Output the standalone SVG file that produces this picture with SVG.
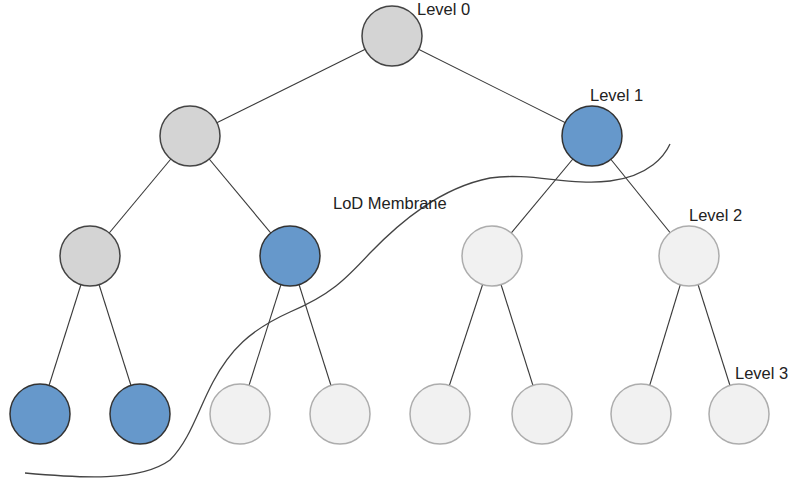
<svg xmlns="http://www.w3.org/2000/svg" width="790" height="483" viewBox="0 0 790 483">
<style>
.e{stroke:#3a3a3a;stroke-width:1.1;fill:none}
.g{fill:#d4d4d4;stroke:#444;stroke-width:1.5}
.b{fill:#6698cb;stroke:#333;stroke-width:1.5}
.l{fill:#f1f1f1;stroke:#adadad;stroke-width:1.5}
.t{font-family:"Liberation Sans",Arial,sans-serif;font-size:16.5px;fill:#222}
.m{stroke:#444;stroke-width:1.3;fill:none}
</style>
<rect width="790" height="483" fill="#fff"/>
<g id="connectors">
<line class="e" x1="392" y1="36" x2="190" y2="136"/>
<line class="e" x1="392" y1="36" x2="592" y2="136"/>
<line class="e" x1="190" y1="136" x2="90" y2="256"/>
<line class="e" x1="190" y1="136" x2="290" y2="256"/>
<line class="e" x1="592" y1="136" x2="492" y2="256"/>
<line class="e" x1="592" y1="136" x2="689" y2="256"/>
<line class="e" x1="90" y1="256" x2="40" y2="414"/>
<line class="e" x1="90" y1="256" x2="140" y2="414"/>
<line class="e" x1="290" y1="256" x2="240" y2="414"/>
<line class="e" x1="290" y1="256" x2="340" y2="414"/>
<line class="e" x1="492" y1="256" x2="440" y2="414"/>
<line class="e" x1="492" y1="256" x2="542" y2="414"/>
<line class="e" x1="689" y1="256" x2="641" y2="414"/>
<line class="e" x1="689" y1="256" x2="739" y2="414"/>
</g>
<g id="n0"><circle class="g" cx="392" cy="36" r="30"/></g>
<g id="n1a"><circle class="g" cx="190" cy="136" r="30"/></g>
<g id="n1b"><circle class="b" cx="592" cy="136" r="30"/></g>
<g id="n2a"><circle class="g" cx="90" cy="256" r="30"/></g>
<g id="n2b"><circle class="b" cx="290" cy="256" r="30"/></g>
<g id="n2c"><circle class="l" cx="492" cy="256" r="30"/></g>
<g id="n2d"><circle class="l" cx="689" cy="256" r="30"/></g>
<g id="n3a"><circle class="b" cx="40" cy="414" r="30"/></g>
<g id="n3b"><circle class="b" cx="140" cy="414" r="30"/></g>
<g id="n3c"><circle class="l" cx="240" cy="414" r="30"/></g>
<g id="n3d"><circle class="l" cx="340" cy="414" r="30"/></g>
<g id="n3e"><circle class="l" cx="440" cy="414" r="30"/></g>
<g id="n3f"><circle class="l" cx="542" cy="414" r="30"/></g>
<g id="n3g"><circle class="l" cx="641" cy="414" r="30"/></g>
<g id="n3h"><circle class="l" cx="739" cy="414" r="30"/></g>
<g id="membrane">
<path class="m" d="M25,473 C80,478 140,482 170,460 C190,440 198,410 213,382 C230,350 250,330 290,312 C330,295 345,280 370,253 C400,222 440,188 490,178 C530,172 570,186 610,181 C650,176 665,155 670,144"/>
</g>
<g id="labels">
<text class="t" x="417" y="15">Level 0</text>
<text class="t" x="590" y="101">Level 1</text>
<text class="t" x="689" y="221">Level 2</text>
<text class="t" x="735" y="379">Level 3</text>
<text class="t" x="333" y="209">LoD Membrane</text>
</g>
</svg>
